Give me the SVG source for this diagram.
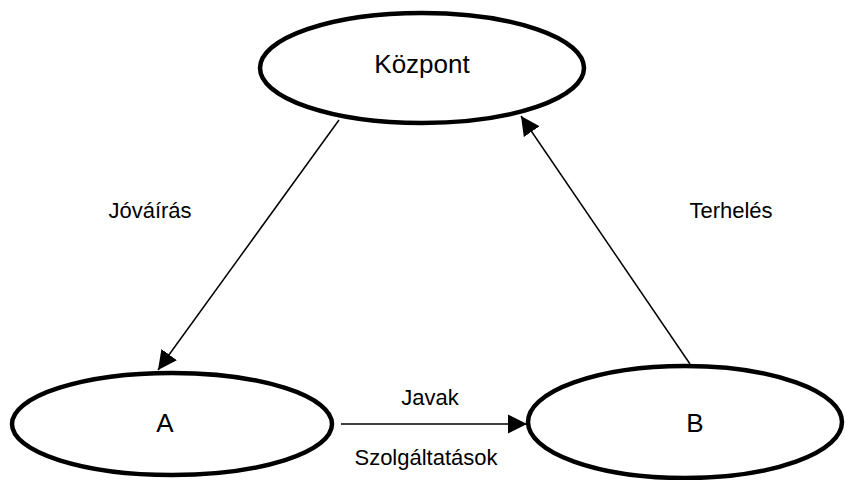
<svg xmlns="http://www.w3.org/2000/svg" width="845" height="480" viewBox="0 0 845 480">
  <style>
    .node { fill: #ffffff; stroke: #000000; stroke-width: 4.5; }
    .node-label { font-family: "Liberation Sans", Arial, sans-serif; font-size: 26px; fill: #000000; text-anchor: middle; }
    .edge { stroke: #000000; stroke-width: 1.5; fill: none; marker-end: url(#arrow); }
    .edge-label { font-family: "Liberation Sans", Arial, sans-serif; font-size: 22px; fill: #000000; text-anchor: middle; }
  </style>
  <defs>
    <marker id="arrow" markerUnits="userSpaceOnUse" markerWidth="20" markerHeight="20" viewBox="0 0 20 20" refX="19" refY="10" orient="auto">
      <path d="M0,0.5 L19,10 L0,19.5 Z" fill="#000000"/>
    </marker>
  </defs>

  <rect width="845" height="480" fill="#ffffff"/>

  <!-- connectors -->
  <g id="connectors">
    <line class="edge" x1="339" y1="120" x2="158" y2="370"/>
    <line class="edge" x1="690" y1="364" x2="521" y2="116"/>
    <line class="edge" x1="341" y1="424" x2="527" y2="424"/>
  </g>

  <!-- connector labels -->
  <g id="edge-labels">
    <text class="edge-label" x="150" y="218">Jóváírás</text>
    <text class="edge-label" x="731" y="218">Terhelés</text>
    <text class="edge-label" x="430" y="405">Javak</text>
    <text class="edge-label" x="426" y="465">Szolgáltatások</text>
  </g>

  <g id="node-kozpont">
    <ellipse class="node" cx="422" cy="68" rx="162" ry="55"/>
    <text class="node-label" x="422" y="73">Központ</text>
  </g>

  <g id="node-a">
    <ellipse class="node" cx="172" cy="424" rx="160" ry="51"/>
    <text class="node-label" x="165" y="432">A</text>
  </g>

  <g id="node-b">
    <ellipse class="node" cx="685" cy="422" rx="157" ry="56"/>
    <text class="node-label" x="695" y="432">B</text>
  </g>
</svg>
